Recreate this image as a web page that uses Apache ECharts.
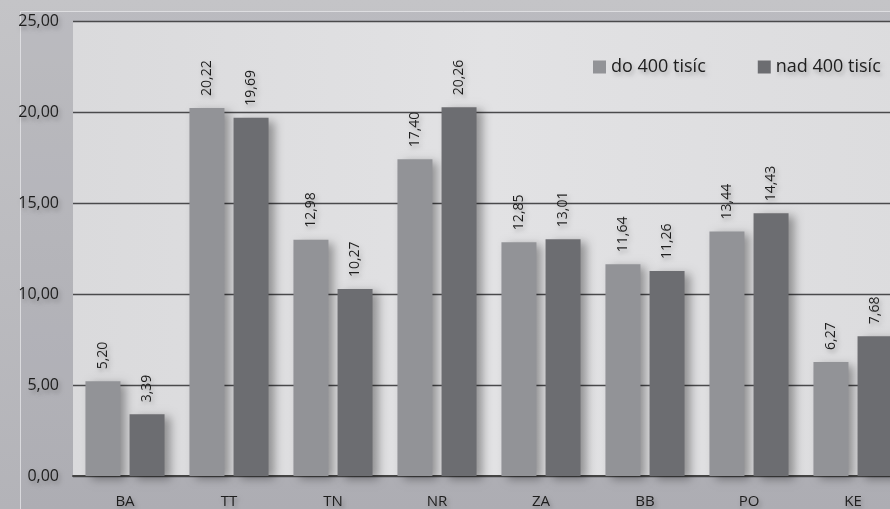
<!DOCTYPE html>
<html>
<head>
<meta charset="utf-8">
<script src="https://cdn.jsdelivr.net/npm/echarts@6/dist/echarts.min.js"></script>
<style>
html,body{margin:0;padding:0;overflow:hidden;width:890px;height:509px;background:#b8b8bc;}
#chart{width:905px;height:509px;}
</style>
</head>
<body>
<div id="chart"></div>
<script>
var categories = ['BA', 'TT', 'TN', 'NR', 'ZA', 'BB', 'PO', 'KE'];
var seriesNames = ['do 400 tisíc', 'nad 400 tisíc'];
var valuesDo400 = [5.20, 20.22, 12.98, 17.40, 12.85, 11.64, 13.44, 6.27];
var valuesNad400 = [3.39, 19.69, 10.27, 20.26, 13.01, 11.26, 14.43, 7.68];
var yMin = 0, yMax = 25, yStep = 5;

var FONT = '"Open Sans", "Noto Sans", sans-serif';
function fmt(v) { return Number(v).toFixed(2).replace('.', ','); }

var chart = echarts.init(document.getElementById('chart'));
var txtShadow = { textShadowColor: 'rgba(0,0,0,0.28)', textShadowBlur: 4, textShadowOffsetX: 2, textShadowOffsetY: 3 };

function barSeries(name, data, color) {
  return {
    name: name,
    type: 'bar',
    data: data,
    barWidth: 35,
    barGap: '26%',
    itemStyle: {
      color: color,
      shadowColor: 'rgba(0,0,0,0.35)',
      shadowBlur: 9,
      shadowOffsetX: 6,
      shadowOffsetY: 3
    },
    label: Object.assign({
      show: true,
      position: 'top',
      rotate: 90,
      align: 'left',
      verticalAlign: 'middle',
      distance: 12,
      fontFamily: FONT,
      fontSize: 14,
      color: '#1e1e1e',
      formatter: function (p) { return fmt(p.value); }
    }, txtShadow),
    emphasis: { disabled: true },
    animation: false
  };
}

chart.setOption({
  animation: false,
  backgroundColor: {
    type: 'linear', x: 0, y: 0, x2: 0, y2: 1,
    colorStops: [{ offset: 0, color: '#c4c4c7' }, { offset: 1, color: '#b3b3b8' }]
  },
  graphic: [{
    type: 'rect',
    silent: true,
    z: -10,
    shape: { x: 20.5, y: 11.5, width: 900, height: 520 },
    style: { fill: 'rgba(150,150,158,0.18)', stroke: 'rgba(235,235,238,0.7)', lineWidth: 1 }
  }],
  grid: {
    left: 73, right: 0, top: 21, bottom: 33,
    outerBoundsMode: 'none',
    containLabel: false,
    show: true,
    borderWidth: 0,
    backgroundColor: {
      type: 'linear', x: 0, y: 0, x2: 1, y2: 0,
      colorStops: [{ offset: 0, color: '#dadadc' }, { offset: 0.5, color: '#e2e2e4' }, { offset: 1, color: '#dcdcde' }]
    }
  },
  legend: {
    left: 588, top: 53,
    itemWidth: 13, itemHeight: 13, itemGap: 52,
    icon: 'rect',
    data: seriesNames,
    textStyle: Object.assign({ fontFamily: FONT, fontSize: 18, color: '#1e1e1e' }, txtShadow)
  },
  xAxis: {
    type: 'category',
    data: categories,
    axisLine: { show: true, lineStyle: { color: '#444', width: 2 } },
    axisTick: { show: false },
    axisLabel: Object.assign({ fontFamily: FONT, fontSize: 15, color: '#1e1e1e', margin: 18 }, txtShadow)
  },
  yAxis: {
    type: 'value',
    min: yMin, max: yMax, interval: yStep,
    axisLine: { show: false },
    axisTick: { show: false },
    splitLine: { lineStyle: { color: '#4a4a4c', width: 1.3 } },
    axisLabel: Object.assign({ fontFamily: FONT, fontSize: 16, color: '#1e1e1e', margin: 14, formatter: fmt }, txtShadow)
  },
  series: [
    barSeries(seriesNames[0], valuesDo400, '#929397'),
    barSeries(seriesNames[1], valuesNad400, '#6c6d71')
  ]
});
</script>
</body>
</html>
